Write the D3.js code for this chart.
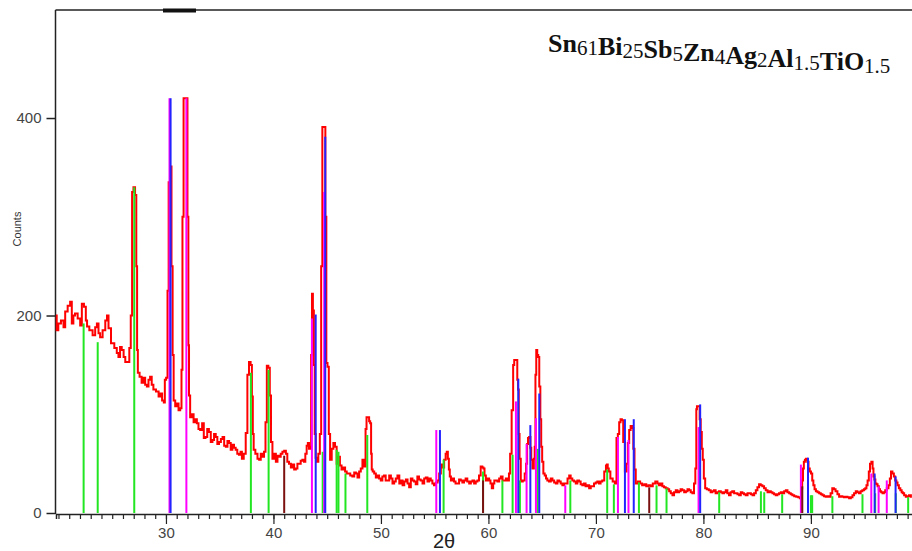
<!DOCTYPE html>
<html>
<head>
<meta charset="utf-8">
<script src="https://cdn.jsdelivr.net/npm/d3@7"></script>
<style>
  body { margin: 0; background: #fff; }
  svg { display: block; }
</style>
</head>
<body>
<svg id="chart" width="912" height="551"></svg>
<script>
var patternTheta = [19.77,19.9,20.07,20.39,20.55,20.7,21.01,21.16,21.32,21.45,21.63,21.94,22.1,22.25,22.49,22.6,22.72,23.02,23.33,23.5,23.65,23.8,23.95,24.26,24.45,24.58,24.73,25.04,25.35,25.5,25.66,25.8,25.97,26.15,26.28,26.53,26.65,26.8,26.9,27.05,27.2,27.28,27.35,27.42,27.67,27.8,27.98,28.15,28.3,28.45,28.6,28.75,28.91,29.23,29.4,29.53,29.75,29.85,29.94,30.09,30.2,30.3,30.45,30.58,30.66,30.77,30.95,31.09,31.25,31.4,31.49,31.58,31.7,31.95,32.05,32.12,32.17,32.33,32.5,32.64,32.8,32.95,33.1,33.26,33.47,33.57,33.78,33.9,34.09,34.25,34.4,34.55,34.71,34.85,35.02,35.2,35.33,35.5,35.64,35.8,35.95,36.1,36.26,36.4,36.57,36.7,36.88,37.0,37.13,37.34,37.5,37.65,37.8,37.95,38.04,38.12,38.2,38.43,38.6,38.74,38.9,39.05,39.2,39.32,39.45,39.6,39.72,39.82,39.99,40.15,40.3,40.45,40.6,40.75,40.92,41.08,41.23,41.35,41.54,41.7,41.85,42.0,42.16,42.3,42.47,42.6,42.78,42.9,43.03,43.15,43.25,43.36,43.46,43.55,43.62,43.72,43.8,43.88,43.98,44.1,44.25,44.38,44.5,44.6,44.78,44.88,44.96,45.1,45.2,45.34,45.5,45.65,45.8,45.96,46.12,46.25,46.42,46.6,46.73,46.9,47.04,47.25,47.43,47.6,47.74,47.9,48.05,48.2,48.36,48.52,48.62,48.7,48.85,48.95,49.05,49.12,49.17,49.3,49.45,49.6,49.76,49.9,50.07,50.2,50.38,50.5,50.69,50.85,51.0,51.15,51.31,51.45,51.62,51.8,51.93,52.1,52.24,52.4,52.55,52.7,52.86,53.0,53.17,53.3,53.48,53.6,53.79,53.95,54.1,54.25,54.41,54.55,54.72,54.85,55.03,55.2,55.34,55.5,55.65,55.8,55.96,56.08,56.17,56.28,56.36,56.45,56.57,56.72,56.88,57.0,57.19,57.35,57.5,57.65,57.81,57.95,58.12,58.3,58.43,58.6,58.74,58.9,59.05,59.2,59.36,59.5,59.57,59.7,59.82,60.0,60.13,60.25,60.38,60.5,60.6,60.75,60.92,61.08,61.23,61.4,61.54,61.7,61.85,61.97,62.07,62.25,62.35,62.45,62.65,62.72,62.78,62.86,62.93,63.09,63.3,63.45,63.55,63.65,63.71,63.86,63.95,64.02,64.17,64.28,64.33,64.42,64.48,64.6,64.67,64.79,64.87,64.95,65.05,65.17,65.3,65.41,65.55,65.72,65.88,66.03,66.2,66.34,66.5,66.65,66.8,66.96,67.1,67.27,67.45,67.58,67.72,67.89,68.05,68.2,68.35,68.51,68.65,68.82,68.95,69.13,69.3,69.44,69.6,69.75,69.9,70.06,70.2,70.37,70.5,70.68,70.87,71.0,71.05,71.15,71.24,71.45,71.67,71.85,71.98,72.1,72.23,72.35,72.48,72.6,72.79,72.91,73.03,73.16,73.3,73.41,73.55,73.63,73.78,74.03,74.2,74.4,74.6,74.77,75.0,75.18,75.4,75.65,75.8,75.95,76.1,76.26,76.4,76.58,76.75,76.88,77.05,77.19,77.35,77.51,77.65,77.81,77.95,78.12,78.3,78.44,78.6,78.74,78.9,79.05,79.2,79.3,79.38,79.42,79.6,79.7,79.8,79.9,79.98,80.1,80.23,80.4,80.6,80.75,80.91,81.05,81.22,81.38,81.53,81.7,81.84,82.0,82.16,82.3,82.47,82.6,82.77,82.95,83.09,83.25,83.4,83.55,83.7,83.85,84.02,84.2,84.33,84.5,84.64,84.8,84.95,85.1,85.26,85.4,85.57,85.72,85.88,86.05,86.19,86.35,86.5,86.65,86.81,86.95,87.12,87.28,87.43,87.6,87.74,87.9,88.05,88.2,88.35,88.55,88.73,88.9,89.04,89.15,89.23,89.3,89.39,89.5,89.6,89.72,89.84,89.95,90.07,90.18,90.28,90.4,90.53,90.7,90.84,91.0,91.15,91.3,91.46,91.6,91.77,91.9,92.08,92.2,92.39,92.55,92.7,92.85,93.0,93.15,93.32,93.48,93.63,93.8,93.94,94.1,94.25,94.4,94.56,94.7,94.87,95.0,95.12,95.22,95.33,95.45,95.55,95.7,95.78,95.86,95.95,96.05,96.15,96.26,96.38,96.48,96.6,96.73,96.85,96.98,97.15,97.29,97.4,97.51,97.66,97.78,97.91,98.0,98.12,98.25,98.39,98.5,98.6,98.75,98.91,99.05,99.21,99.4];
var patternCounts = [200,185,192,195,188,204,210,214,192,200,202,197,190,212,209,195,189,185,180,188,192,182,178,185,195,200,187,172,167,162,158,168,165,158,153,153,167,200,325,330,322,250,165,142,138,132,137,130,128,135,138,130,125,123,118,121,114,112,135,137,225,335,351,250,160,114,108,111,104,106,145,300,420,420,300,170,119,97,100,92,95,91,85,84,91,76,77,85,82,72,74,80,77,70,72,75,77,68,67,73,71,64,69,66,64,60,59,62,55,60,81,140,153,150,118,80,64,60,55,54,60,57,62,92,149,147,119,72,55,60,52,58,57,60,62,63,60,52,50,46,49,44,45,50,50,53,54,52,60,68,71,65,67,160,222,205,150,80,56,52,60,80,250,391,391,300,152,148,80,54,65,71,67,50,57,48,44,46,42,40,40,38,37,41,40,36,42,45,54,47,85,97,97,93,91,60,44,42,40,36,38,35,33,37,38,33,33,38,35,30,32,35,38,30,33,28,32,34,30,26,35,33,32,29,37,34,33,30,35,36,32,35,33,30,28,31,33,40,49,46,54,60,62,55,44,37,33,35,32,30,30,34,33,31,33,35,32,30,32,33,30,32,33,38,47,46,45,38,33,35,33,30,25,30,33,33,32,35,37,33,33,35,33,40,60,104,150,155,155,135,125,80,55,32,33,40,50,70,76,77,66,54,45,55,67,140,165,160,158,128,95,67,52,40,38,35,33,32,35,33,31,30,33,32,30,28,30,30,35,38,35,33,32,30,33,32,29,28,30,27,28,25,27,27,30,31,32,30,32,33,42,48,49,45,42,35,32,30,76,80,92,95,94,72,42,50,71,84,88,86,65,44,30,32,30,28,29,27,28,27,30,32,30,28,30,27,26,25,24,22,20,18,21,23,21,22,24,23,21,22,24,23,21,20,30,45,105,108,108,95,82,65,54,35,25,24,23,21,22,23,20,21,22,21,20,21,23,20,18,21,22,20,20,19,18,21,20,19,18,20,20,19,18,20,23,26,29,28,27,25,23,21,22,21,20,19,18,19,20,21,20,22,23,21,20,19,18,17,16.5,16,15,25,33,45,52,54,55,52,45,42,40,33,28,24,22,21,20,19,18,17,16.5,17,16.5,20,25,24,22,19,16.5,17,16.5,16,16.5,16,15,16,18,20,22,21,20,22,23,24,25,28,33,42,50,52,45,37,34,30,29,27,24,22,21,20,21,23,25,28,35,42,40,37,33,31,28,25,23,21,20,18,16.5,17,18,16.5];

// reference stick patterns (position, relative height in counts)
var greenPos = [22.34,23.65,27.05,37.9,39.55,44.58,45.88,46.05,46.7,48.73,55.83,59.5,61.3,62.25,62.93,64.58,67.62,71.05,71.67,74.0,75.64,76.57,81.47,85.35,85.66,87.33,90.0,90.12,92.0,94.8,95.98,97.9,99.05];
var greenHeight = [192,173,330,142,145,62,64,62,40,79,54,42,33,59,33,65,33,44,29,31,28,25,21,22,21,19,18,18,17,19,20,20,16];
var magentaPos = [30.33,31.9,43.58,44.72,55.15,62.56,63.55,64.42,67.15,72.05,73.03,79.55,89.07,95.62,96.3,97.06];
var magentaHeight = [420,420,197,325,84,113,70,96,28,77,74,87,49,40,27,33];
var bluePos = [30.43,43.93,44.82,55.49,62.78,63.9,64.73,72.7,73.52,79.7,89.73,95.93,97.88];
var blueHeight = [420,201,381,84,136,89,121,95,95,110,56,40,37];
var brownPos = [41.0,59.5,74.96,89.2];
var brownHeight = [58,33,26,27];

var xTicksMajor = [30,40,50,60,70,80,90];
var yTicks = [0,200,400];

var svg = d3.select("#chart");

var x = d3.scaleLinear().domain([19.77, 99.5]).range([56, 913]);
var y = d3.scaleLinear().domain([0, 509.4]).range([513, 10]);

// frame (left + top)
svg.append("line").attr("x1",55.5).attr("x2",912).attr("y1",10).attr("y2",10)
  .attr("stroke","#222").attr("stroke-width",1.5);
svg.append("line").attr("x1",55.5).attr("x2",55.5).attr("y1",10).attr("y2",514)
  .attr("stroke","#222").attr("stroke-width",1.5);
// the odd thick bar on top of the frame
svg.append("rect").attr("x",163).attr("y",8.5).attr("width",33).attr("height",4).attr("fill","#111");

// measured pattern
var line = d3.line()
  .x(function(d){ return x(d[0]); })
  .y(function(d){ return y(d[1]); })
  .curve(d3.curveStep);

var pts = patternTheta.map(function(t,i){ return [t, patternCounts[i]]; });
svg.append("path").datum(pts)
  .attr("fill","none").attr("stroke","#ff0000").attr("stroke-width",2)
  .attr("stroke-linejoin","miter")
  .attr("d", line);

// sticks
function sticks(pos, h, color, w){
  svg.append("g").selectAll("line")
    .data(pos.map(function(p,i){ return [p, h[i]]; }))
    .enter().append("line")
    .attr("x1", function(d){ return x(d[0]); })
    .attr("x2", function(d){ return x(d[0]); })
    .attr("y1", y(0))
    .attr("y2", function(d){ return y(d[1]); })
    .attr("stroke", color)
    .attr("stroke-width", w);
}
sticks(greenPos, greenHeight, "#22e622", 2);
sticks(magentaPos, magentaHeight, "#ff00ff", 2);
sticks(bluePos, blueHeight, "#2323ff", 2);
sticks(brownPos, brownHeight, "#7b1010", 2);

// x axis: minor every degree, labelled majors every 10
var minor = d3.axisBottom(x).tickValues(d3.range(20, 100)).tickSize(5).tickFormat("");
var gMinor = svg.append("g").attr("transform","translate(0,514)").call(minor);
gMinor.select(".domain").attr("stroke","#222").attr("stroke-width",1.5);
gMinor.selectAll(".tick line").attr("stroke","#222").attr("stroke-width",1.2);

var major = d3.axisBottom(x).tickValues(xTicksMajor).tickSize(10).tickPadding(6);
var gMajor = svg.append("g").attr("transform","translate(0,514)").call(major);
gMajor.select(".domain").remove();
gMajor.selectAll(".tick line").attr("stroke","#222").attr("stroke-width",1.2);
gMajor.selectAll("text").attr("font-family","'Liberation Sans', Arial, sans-serif")
  .attr("font-size",15).attr("fill","#444").attr("dy","0.55em");

// y axis
var yAxis = d3.axisLeft(y).tickValues(yTicks).tickSize(9).tickPadding(5);
var gY = svg.append("g").attr("transform","translate(55.5,0)").call(yAxis);
gY.select(".domain").remove();
gY.selectAll(".tick line").attr("stroke","#222").attr("stroke-width",1.5);
gY.selectAll("text").attr("font-family","'Liberation Sans', Arial, sans-serif")
  .attr("font-size",15).attr("fill","#444");

// axis titles
svg.append("text").attr("x",444).attr("y",548).attr("text-anchor","middle")
  .attr("font-family","'Liberation Sans', Arial, sans-serif").attr("font-size",20)
  .attr("fill","#222").text("2θ");
svg.append("text").attr("transform","translate(21,229) rotate(-90)").attr("text-anchor","middle")
  .attr("font-family","'Liberation Sans', Arial, sans-serif").attr("font-size",11)
  .attr("fill","#333").text("Counts");

// composition title
var parts = [["Sn","61"],["Bi","25"],["Sb","5"],["Zn","4"],["Ag","2"],["Al","1.5"],["Ti",""],["O","1.5"]];
var title = svg.append("text").attr("x",548).attr("y",52)
  .attr("font-family","'Liberation Serif', 'Times New Roman', serif").attr("fill","#111");
parts.forEach(function(p){
  title.append("tspan").attr("font-size",26).attr("font-weight","bold").attr("dy",0).text(p[0]);
  if(p[1]){
    title.append("tspan").attr("font-size",21).attr("font-weight","normal").attr("dy",3).text(p[1]);
    title.append("tspan").attr("font-size",26).attr("dy",-3).text("");
  }
});
</script>
</body>
</html>
